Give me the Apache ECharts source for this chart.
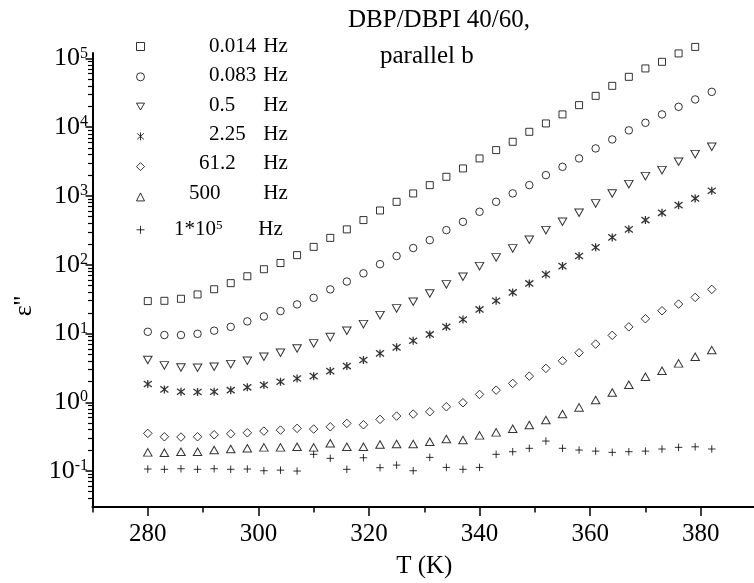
<!DOCTYPE html>
<html>
<head>
<meta charset="utf-8">
<script src="https://cdn.jsdelivr.net/npm/echarts@6/dist/echarts.min.js"></script>
<style>
  html, body { margin: 0; padding: 0; background: #fff; }
  #chart { width: 754px; height: 583px; }
</style>
</head>
<body>
<div id="chart"></div>
<script>
// Temperatures of the measurement points (K)
const temperatures = [280, 283, 286, 289, 292, 295, 298, 301, 304, 307, 310, 313, 316, 319, 322, 325, 328,
  331, 334, 337, 340, 343, 346, 349, 352, 355, 358, 361, 364, 367, 370, 373, 376, 379, 382];

// Dielectric loss ε'' for each frequency (one value per temperature)
const loss0014Hz = [29.6, 29.9, 32, 37, 44, 54, 68, 86, 106, 138, 182, 246, 327, 446, 615, 822, 1089, 1438,
  1901, 2516, 3516, 4645, 6138, 8578, 11350, 15350, 20950, 28580, 39970, 54050, 71560, 89300, 118300, 147100];
const loss0083Hz = [10.6, 9.5, 9.5, 9.9, 11.0, 12.5, 15.0, 17.7, 21.2, 26.5, 33, 43.8, 57, 75, 102, 134, 175,
  228, 319, 421, 589, 823, 1090, 1439, 2010, 2655, 3517, 4917, 6640, 9000, 11590, 15350, 19790, 25340, 32680];
const loss05Hz = [4.11, 3.44, 3.21, 3.17, 3.28, 3.59, 4.01, 4.59, 5.25, 6.07, 7.18, 8.87, 10.96, 13.7, 18.5,
  23.2, 28.9, 38.3, 51.8, 66.9, 95.5, 128, 173, 231, 319, 421, 569, 780, 1089, 1487, 1945, 2377, 3139, 4061, 5187];
const loss225Hz = [1.84, 1.54, 1.42, 1.41, 1.42, 1.50, 1.65, 1.78, 1.99, 2.22, 2.40, 2.84, 3.36, 4.11, 5.14,
  6.29, 7.83, 9.7, 12.5, 16.0, 22.4, 29.9, 39.6, 53.5, 72.4, 95.5, 134, 179, 250, 327, 446, 569, 736, 922, 1189];
const loss612Hz = [0.353, 0.315, 0.312, 0.315, 0.337, 0.348, 0.360, 0.381, 0.394, 0.417, 0.408, 0.440, 0.493,
  0.471, 0.564, 0.630, 0.674, 0.728, 0.861, 0.984, 1.30, 1.50, 1.88, 2.40, 3.11, 4.01, 5.25, 7.02, 9.40, 12.5,
  16.4, 21.4, 26.8, 33.5, 43.8];
const loss500Hz = [0.187, 0.185, 0.191, 0.191, 0.202, 0.209, 0.214, 0.221, 0.221, 0.225, 0.221, 0.253, 0.225,
  0.225, 0.243, 0.247, 0.247, 0.267, 0.292, 0.282, 0.330, 0.365, 0.412, 0.466, 0.551, 0.674, 0.842, 1.08, 1.39,
  1.80, 2.35, 2.87, 3.68, 4.59, 5.74];
const loss1e5Hz = [0.107, 0.106, 0.108, 0.106, 0.108, 0.106, 0.107, 0.101, 0.103, 0.100, 0.175, 0.153, 0.106,
  0.156, 0.112, 0.122, 0.101, 0.158, 0.113, 0.106, 0.113, 0.175, 0.191, 0.214, 0.273, 0.214, 0.202, 0.195, 0.187,
  0.191, 0.195, 0.209, 0.221, 0.225, 0.209];

const seriesNames = ['0.014 Hz', '0.083 Hz', '0.5 Hz', '2.25 Hz', '61.2 Hz', '500 Hz', '1*10^5 Hz'];
const legendNumbers = ['0.014', '0.083', '0.5', '2.25', '61.2', '500', '1*10{s|5}'];
const legendUnit = 'Hz';

const xLabelTicks = [280, 300, 320, 340, 360, 380];
const xMinorTicks = [270, 290, 310, 330, 350, 370, 390];
const yDecades = [0.1, 1, 10, 100, 1000, 10000, 100000];
const yMinorTicks = [0.04, 0.05, 0.06, 0.07, 0.08, 0.09,
  0.2, 0.3, 0.4, 0.5, 0.6, 0.7, 0.8, 0.9,
  2, 3, 4, 5, 6, 7, 8, 9,
  20, 30, 40, 50, 60, 70, 80, 90,
  200, 300, 400, 500, 600, 700, 800, 900,
  2000, 3000, 4000, 5000, 6000, 7000, 8000, 9000,
  20000, 30000, 40000, 50000, 60000, 70000, 80000, 90000];

const titleLine1 = 'DBP/DBPI 40/60,';
const titleLine2 = 'parallel b';
const xName = 'T (K)';
const yName = "ε''";

// ---- drawing ----
const FONT = '"Liberation Serif", "Times New Roman", serif';
const seriesData = [loss0014Hz, loss0083Hz, loss05Hz, loss225Hz, loss612Hz, loss500Hz, loss1e5Hz];

const markers = [
  { symbol: 'rect', size: 7 },
  { symbol: 'circle', size: 7.5 },
  { symbol: 'path://M0,0L10,0L5,8.66Z', size: [8.5, 7.5] },
  { symbol: 'path://M5,0L5,10M0.8,1.2L9.2,8.8M0.8,8.8L9.2,1.2', size: 8, width: 1.3 },
  { symbol: 'diamond', size: [8.5, 8.5] },
  { symbol: 'triangle', size: [8.5, 7.5] },
  { symbol: 'path://M5,0L5,10M0,5L10,5', size: 7.5 }
];

const series = seriesNames.map((name, i) => ({
  name,
  type: 'scatter',
  clip: false,
  symbol: markers[i].symbol,
  symbolSize: markers[i].size,
  itemStyle: { color: 'transparent', borderColor: '#000', borderWidth: markers[i].width || 1 },
  emphasis: { disabled: true },
  data: seriesData[i].map((v, k) => [temperatures[k], v])
}));

// legend label placement: [number x, unit x, row y]
const legendLayout = [
  [209, 263.3, 46], [209, 263.3, 75.3], [209, 263.3, 105], [209, 263.3, 134.5],
  [199, 263.3, 163.5], [189, 263.3, 193], [174, 258.3, 229.3]
];

const graphics = [];
legendNumbers.forEach((txt, i) => {
  const [nx, hx, ry] = legendLayout[i];
  graphics.push({
    type: 'text', x: nx, y: ry, silent: true,
    style: {
      text: txt, fill: '#000', font: '21px ' + FONT, fontSize: 21, fontFamily: FONT,
      align: 'left', verticalAlign: 'middle',
      rich: { s: { fontSize: 13, fontFamily: FONT, fill: '#000', lineHeight: 11, verticalAlign: 'top' } }
    }
  });
  graphics.push({
    type: 'text', x: hx, y: ry, silent: true,
    style: { text: legendUnit, fill: '#000', font: '21px ' + FONT, align: 'left', verticalAlign: 'middle' }
  });
});
graphics.push({
  type: 'text', x: 24.5, y: 306, rotation: Math.PI / 2, silent: true,
  style: { text: yName, fill: '#000', font: '26px ' + FONT, align: 'center', verticalAlign: 'middle' }
});

const chart = echarts.init(document.getElementById('chart'), null, { renderer: 'canvas' });
const axisLineStyle = { color: '#000', width: 2 };

chart.setOption({
  animation: false,
  backgroundColor: '#fff',
  title: [
    { text: titleLine1, left: 348, top: 8, padding: 0,
      textStyle: { fontFamily: FONT, fontSize: 25, fontWeight: 'normal', color: '#000' } },
    { text: titleLine2, left: 380, top: 43.5, padding: 0,
      textStyle: { fontFamily: FONT, fontSize: 25, fontWeight: 'normal', color: '#000' } }
  ],
  grid: { left: 92.5, top: 53, width: 663.5, height: 454, containLabel: false, outerBoundsMode: 'none' },
  legend: [
    {
      data: seriesNames.slice(0, 6), orient: 'vertical', left: 136, top: 42, padding: 0,
      itemWidth: 8, itemHeight: 8, itemGap: 21.3, selectedMode: false,
      formatter: () => '', textStyle: { fontSize: 1, lineHeight: 1 },
      itemStyle: { borderWidth: 1, borderColor: '#000', color: 'transparent' }
    },
    {
      data: seriesNames.slice(6), orient: 'vertical', left: 136, top: 225.3, padding: 0,
      itemWidth: 8, itemHeight: 8, selectedMode: false,
      formatter: () => '', textStyle: { fontSize: 1, lineHeight: 1 },
      itemStyle: { borderWidth: 1, borderColor: '#000', color: 'transparent' }
    }
  ],
  xAxis: [
    {
      type: 'value', min: 270, max: 390, position: 'bottom',
      name: xName, nameLocation: 'middle', nameGap: 47,
      nameTextStyle: { fontFamily: FONT, fontSize: 25, color: '#000' },
      axisLine: { show: true, onZero: false, lineStyle: axisLineStyle },
      axisTick: { show: true, inside: false, length: 9, customValues: xLabelTicks, lineStyle: { color: '#000', width: 1.5 } },
      axisLabel: { show: true, customValues: xLabelTicks, margin: 15, fontFamily: FONT, fontSize: 25, color: '#000' },
      splitLine: { show: false }
    },
    {
      type: 'value', min: 270, max: 390, position: 'bottom',
      axisLine: { show: false },
      axisTick: { show: true, inside: false, length: 5.5, customValues: xMinorTicks, lineStyle: { color: '#000', width: 1.5 } },
      axisLabel: { show: false },
      splitLine: { show: false }
    }
  ],
  yAxis: [
    {
      type: 'log', logBase: 10, min: 0.03, max: 120000, position: 'left',
      axisLine: { show: true, onZero: false, lineStyle: axisLineStyle },
      axisTick: { show: true, inside: false, length: 7, customValues: yDecades, lineStyle: { color: '#000', width: 1.5 } },
      axisLabel: {
        show: true, customValues: yDecades, margin: 4.5, fontFamily: FONT, fontSize: 26, color: '#000',
        formatter: v => '{b|10}{s|' + Math.round(Math.log10(v)) + '}',
        rich: {
          b: { fontFamily: FONT, fontSize: 26, color: '#000', lineHeight: 26, verticalAlign: 'bottom' },
          s: { fontFamily: FONT, fontSize: 16, color: '#000', lineHeight: 10, verticalAlign: 'top' }
        }
      },
      splitLine: { show: false }
    },
    {
      type: 'log', logBase: 10, min: 0.03, max: 120000, position: 'left',
      axisLine: { show: false },
      axisTick: { show: true, inside: false, length: 4.5, customValues: yMinorTicks, lineStyle: { color: '#000', width: 1.2 } },
      axisLabel: { show: false },
      splitLine: { show: false }
    }
  ],
  graphic: graphics,
  series
});
</script>
</body>
</html>
